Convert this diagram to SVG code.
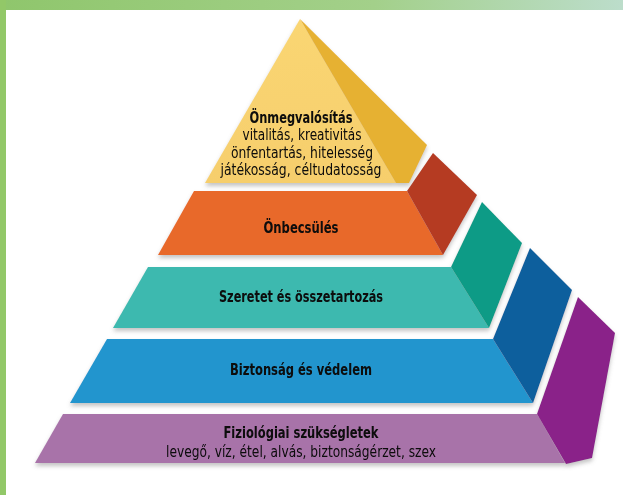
<svg xmlns="http://www.w3.org/2000/svg" width="623" height="495" viewBox="0 0 623 495">
  <defs>
    <linearGradient id="topbar" x1="0" y1="0" x2="1" y2="0">
      <stop offset="0" stop-color="#8FC66C"/>
      <stop offset="0.6" stop-color="#A3D08A"/>
      <stop offset="1" stop-color="#BCDDCB"/>
    </linearGradient>
    <linearGradient id="yellowFront" x1="0" y1="0" x2="0" y2="1">
      <stop offset="0" stop-color="#FAD673"/>
      <stop offset="1" stop-color="#F6CE6C"/>
    </linearGradient>
    <filter id="shadow" x="-10%" y="-10%" width="120%" height="130%">
      <feDropShadow dx="0" dy="3" stdDeviation="2" flood-color="#7A7A7A" flood-opacity="0.45"/>
    </filter>
  </defs>
  <style>
    .bold { font-family: "Liberation Sans Narrow", "DejaVu Sans Condensed", "Liberation Sans", sans-serif; font-weight: bold; font-size: 15px; fill: #0A0A0A; text-anchor: middle; }
    .reg { font-family: "Liberation Sans Narrow", "DejaVu Sans Condensed", "Liberation Sans", sans-serif; font-size: 15px; fill: #0A0A0A; text-anchor: middle; }
  </style>
  <rect width="623" height="495" fill="#FFFFFF"/>
  <!-- frame -->
  <rect x="0" y="0" width="623" height="10" fill="url(#topbar)"/>
  <rect x="0" y="0" width="6" height="495" fill="#92C868"/>

  <g id="level5-physiological" filter="url(#shadow)">
    <polygon points="63,414 537,414 565,463 35,463" fill="#A873A9"/>
    <polygon points="537,414 578,297 615,333 592,458 566,464" fill="#8A2389"/>
    <text class="bold" x="301" y="438" textLength="155" lengthAdjust="spacingAndGlyphs">Fiziológiai szükségletek</text>
    <text class="reg" x="301" y="457" textLength="270" lengthAdjust="spacingAndGlyphs">levegő, víz, étel, alvás, biztonságérzet, szex</text>
  </g>

  <g id="level4-safety" filter="url(#shadow)">
    <polygon points="107,339 493,339 533,403 70,403" fill="#2395CE"/>
    <polygon points="493,339 530,248 572,290 533,403" fill="#0D5E9D"/>
    <text class="bold" x="301" y="375" textLength="142" lengthAdjust="spacingAndGlyphs">Biztonság és védelem</text>
  </g>

  <g id="level3-love" filter="url(#shadow)">
    <polygon points="148,267 451,267 489,328 113,328" fill="#3DB9AF"/>
    <polygon points="451,267 482,202 522,243 489,328" fill="#0F9B86"/>
    <text class="bold" x="301" y="302" textLength="164" lengthAdjust="spacingAndGlyphs">Szeretet és összetartozás</text>
  </g>

  <g id="level2-esteem" filter="url(#shadow)">
    <polygon points="194,191 407,191 443,255 158,255" fill="#E8692A"/>
    <polygon points="407,191 433,153 477,195 443,255" fill="#B53B21"/>
    <text class="bold" x="301" y="233" textLength="75" lengthAdjust="spacingAndGlyphs">Önbecsülés</text>
  </g>

  <g id="level1-self-actualization" filter="url(#shadow)">
    <polygon points="300,19 396,183 205,183" fill="url(#yellowFront)"/>
    <polygon points="300,19 427,145 409,183 396,183" fill="#E6B132"/>
    <text class="bold" x="301" y="123" textLength="103" lengthAdjust="spacingAndGlyphs">Önmegvalósítás</text>
    <text class="reg" x="302" y="140" textLength="119" lengthAdjust="spacingAndGlyphs">vitalitás, kreativitás</text>
    <text class="reg" x="302" y="157.5" textLength="142" lengthAdjust="spacingAndGlyphs">önfentartás, hitelesség</text>
    <text class="reg" x="301" y="175" textLength="161" lengthAdjust="spacingAndGlyphs">játékosság, céltudatosság</text>
  </g>

  <g id="connectors"></g>
</svg>
